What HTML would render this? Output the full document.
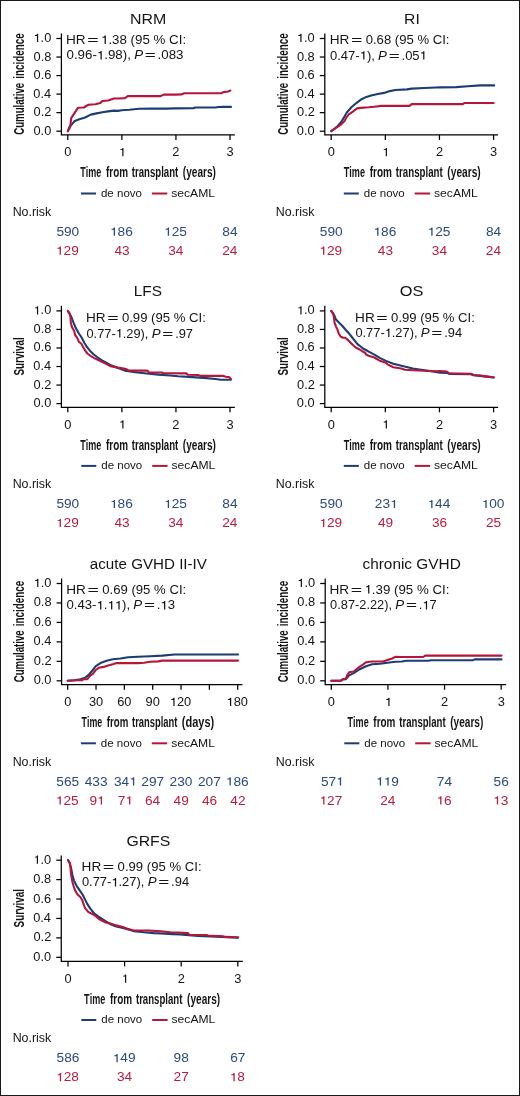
<!DOCTYPE html>
<html><head><meta charset="utf-8"><style>
html,body{margin:0;padding:0;background:#fff;}
svg{display:block;will-change:transform;font-family:"Liberation Sans",sans-serif;font-kerning:none;}
</style></head><body>
<svg width="520" height="1096" viewBox="0 0 520 1096">
<rect x="0" y="0" width="520" height="1096" fill="#fff"/>
<path d="M61.40 33.40V134.90H234.80" fill="none" stroke="#000" stroke-width="1.25"/>
<path d="M56.40 131.20H61.40" stroke="#000" stroke-width="1.25"/>
<text transform="translate(33.45,134.70) scale(1.0700,1)" font-size="12.0" fill="#141414">0.0</text>
<path d="M56.40 112.66H61.40" stroke="#000" stroke-width="1.25"/>
<text transform="translate(33.60,116.16) scale(1.0700,1)" font-size="12.0" fill="#141414">0.2</text>
<path d="M56.40 94.12H61.40" stroke="#000" stroke-width="1.25"/>
<text transform="translate(33.33,97.62) scale(1.0700,1)" font-size="12.0" fill="#141414">0.4</text>
<path d="M56.40 75.58H61.40" stroke="#000" stroke-width="1.25"/>
<text transform="translate(33.51,79.08) scale(1.0700,1)" font-size="12.0" fill="#141414">0.6</text>
<path d="M56.40 57.04H61.40" stroke="#000" stroke-width="1.25"/>
<text transform="translate(33.51,60.54) scale(1.0700,1)" font-size="12.0" fill="#141414">0.8</text>
<path d="M56.40 38.50H61.40" stroke="#000" stroke-width="1.25"/>
<g transform="translate(33.45,42.00) scale(1.0700,1)" fill="#141414"><text font-size="12.0"> .0</text><path transform="translate(0.000,0) scale(0.00586,-0.00586)" d="M752 0V1409H600C550 1250 460 1200 235 1185V1040H558V0Z"/></g>
<path d="M67.80 134.90V139.90" stroke="#000" stroke-width="1.25"/>
<text transform="translate(64.23,156.20) scale(1.0700,1)" font-size="12.0" fill="#141414">0</text>
<path d="M121.87 134.90V139.90" stroke="#000" stroke-width="1.25"/>
<g transform="translate(118.78,156.20) scale(1.0700,1)" fill="#141414"><text font-size="12.0"> </text><path transform="translate(0.000,0) scale(0.00586,-0.00586)" d="M752 0V1409H600C550 1250 460 1200 235 1185V1040H558V0Z"/></g>
<path d="M175.94 134.90V139.90" stroke="#000" stroke-width="1.25"/>
<text transform="translate(172.37,156.20) scale(1.0700,1)" font-size="12.0" fill="#141414">2</text>
<path d="M230.01 134.90V139.90" stroke="#000" stroke-width="1.25"/>
<text transform="translate(226.48,156.20) scale(1.0700,1)" font-size="12.0" fill="#141414">3</text>
<text transform="translate(130.09,23.75) scale(1.0775,1)" font-size="14.8" fill="#141414">NRM</text>
<text transform="translate(24.30,134.80) rotate(-90) scale(0.6309,1)" font-size="15.3" font-weight="bold" fill="#141414">Cumulative</text>
<text transform="translate(24.30,78.69) rotate(-90) scale(0.6422,1)" font-size="15.3" font-weight="bold" fill="#141414">incidence</text>
<text transform="translate(80.20,177.40) scale(0.5903,1)" font-size="15.3" font-weight="bold" fill="#141414">Time</text>
<text transform="translate(105.97,177.40) scale(0.6486,1)" font-size="15.3" font-weight="bold" fill="#141414">from</text>
<text transform="translate(131.86,177.40) scale(0.6273,1)" font-size="15.3" font-weight="bold" fill="#141414">transplant</text>
<text transform="translate(182.85,177.40) scale(0.6587,1)" font-size="15.3" font-weight="bold" fill="#141414">(years)</text>
<text transform="translate(65.98,43.90) scale(1.1150,1)" font-size="12.2" fill="#141414">HR</text>
<text transform="translate(87.25,43.90) scale(1.6028,1)" font-size="12.2" fill="#141414">=</text>
<g transform="translate(100.97,43.90) scale(1.0932,1)" fill="#141414"><text font-size="12.2"> .38 (95 % CI:</text><path transform="translate(0.000,0) scale(0.00596,-0.00596)" d="M752 0V1409H600C550 1250 460 1200 235 1185V1040H558V0Z"/></g>
<g transform="translate(66.48,59.40) scale(1.0927,1)" fill="#141414"><text font-size="12.2">0.96- .98),</text><path transform="translate(27.807,0) scale(0.00596,-0.00596)" d="M752 0V1409H600C550 1250 460 1200 235 1185V1040H558V0Z"/></g>
<text transform="translate(134.15,59.40) scale(1.0931,1)" font-size="12.2" fill="#141414"><tspan font-style="italic">P</tspan></text>
<text transform="translate(144.73,59.40) scale(1.5522,1)" font-size="12.2" fill="#141414">=</text>
<text transform="translate(157.54,59.40) scale(1.0927,1)" font-size="12.2" fill="#141414">.083</text>
<path d="M81.00 193.50h15" stroke="#1b3d74" stroke-width="2"/>
<text transform="translate(100.91,196.80) scale(1.0900,1)" font-size="10.6" fill="#141414">de novo</text>
<path d="M151.90 193.50h15.4" stroke="#b5163b" stroke-width="2"/>
<text transform="translate(171.26,196.80) scale(1.1450,1)" font-size="10.6" fill="#141414">secAML</text>
<text transform="translate(12.63,215.90) scale(1.0450,1)" font-size="11.9" fill="#141414">No.risk</text>
<text transform="translate(56.38,235.70) scale(1.1500,1)" font-size="11.9" fill="#2a4a7e">590</text>
<g transform="translate(55.92,254.70) scale(1.1500,1)" fill="#ba1c3f"><text font-size="11.9"> 29</text><path transform="translate(0.000,0) scale(0.00581,-0.00581)" d="M752 0V1409H600C550 1250 460 1200 235 1185V1040H558V0Z"/></g>
<g transform="translate(109.97,235.70) scale(1.1500,1)" fill="#2a4a7e"><text font-size="11.9"> 86</text><path transform="translate(0.000,0) scale(0.00581,-0.00581)" d="M752 0V1409H600C550 1250 460 1200 235 1185V1040H558V0Z"/></g>
<text transform="translate(114.40,254.70) scale(1.1500,1)" font-size="11.9" fill="#ba1c3f">43</text>
<g transform="translate(164.03,235.70) scale(1.1500,1)" fill="#2a4a7e"><text font-size="11.9"> 25</text><path transform="translate(0.000,0) scale(0.00581,-0.00581)" d="M752 0V1409H600C550 1250 460 1200 235 1185V1040H558V0Z"/></g>
<text transform="translate(168.27,254.70) scale(1.1500,1)" font-size="11.9" fill="#ba1c3f">34</text>
<text transform="translate(222.30,235.70) scale(1.1500,1)" font-size="11.9" fill="#2a4a7e">84</text>
<text transform="translate(222.26,254.70) scale(1.1500,1)" font-size="11.9" fill="#ba1c3f">24</text>
<path d="M67.80 131.20 L69.50 127.00 L71.80 124.40 L74.70 121.00 L79.30 119.20 L85.10 117.50 L90.80 114.60 L96.60 113.40 L102.40 112.30 L108.10 111.40 L113.90 110.60 L118.00 110.90 L121.50 110.20 L129.50 109.80 L138.80 108.80 L152.60 108.60 L166.40 108.60 L175.00 108.40 L193.50 108.30 L195.20 107.50 L215.40 107.50 L218.80 107.00 L223.40 106.80 L231.00 106.90" fill="none" stroke="#1b3d74" stroke-width="2.1" stroke-linejoin="round" stroke-linecap="round"/>
<path d="M67.80 131.20 L70.10 127.30 L71.20 118.10 L73.50 114.60 L75.80 111.10 L78.10 107.70 L83.90 107.50 L86.20 106.00 L88.50 104.80 L95.40 104.20 L100.10 103.10 L102.40 101.00 L108.10 100.50 L113.90 98.50 L118.00 98.50 L124.90 98.10 L127.80 96.10 L160.70 96.10 L163.60 94.60 L175.00 94.60 L181.90 94.40 L184.20 93.30 L221.10 93.30 L223.40 92.10 L228.00 91.50 L230.40 90.60" fill="none" stroke="#b5163b" stroke-width="2.1" stroke-linejoin="round" stroke-linecap="round"/>
<path d="M324.80 33.40V134.90H498.10" fill="none" stroke="#000" stroke-width="1.25"/>
<path d="M319.80 131.20H324.80" stroke="#000" stroke-width="1.25"/>
<text transform="translate(296.85,134.70) scale(1.0700,1)" font-size="12.0" fill="#141414">0.0</text>
<path d="M319.80 112.66H324.80" stroke="#000" stroke-width="1.25"/>
<text transform="translate(297.00,116.16) scale(1.0700,1)" font-size="12.0" fill="#141414">0.2</text>
<path d="M319.80 94.12H324.80" stroke="#000" stroke-width="1.25"/>
<text transform="translate(296.73,97.62) scale(1.0700,1)" font-size="12.0" fill="#141414">0.4</text>
<path d="M319.80 75.58H324.80" stroke="#000" stroke-width="1.25"/>
<text transform="translate(296.91,79.08) scale(1.0700,1)" font-size="12.0" fill="#141414">0.6</text>
<path d="M319.80 57.04H324.80" stroke="#000" stroke-width="1.25"/>
<text transform="translate(296.91,60.54) scale(1.0700,1)" font-size="12.0" fill="#141414">0.8</text>
<path d="M319.80 38.50H324.80" stroke="#000" stroke-width="1.25"/>
<g transform="translate(296.85,42.00) scale(1.0700,1)" fill="#141414"><text font-size="12.0"> .0</text><path transform="translate(0.000,0) scale(0.00586,-0.00586)" d="M752 0V1409H600C550 1250 460 1200 235 1185V1040H558V0Z"/></g>
<path d="M331.20 134.90V139.90" stroke="#000" stroke-width="1.25"/>
<text transform="translate(327.63,156.20) scale(1.0700,1)" font-size="12.0" fill="#141414">0</text>
<path d="M385.33 134.90V139.90" stroke="#000" stroke-width="1.25"/>
<g transform="translate(382.24,156.20) scale(1.0700,1)" fill="#141414"><text font-size="12.0"> </text><path transform="translate(0.000,0) scale(0.00586,-0.00586)" d="M752 0V1409H600C550 1250 460 1200 235 1185V1040H558V0Z"/></g>
<path d="M439.46 134.90V139.90" stroke="#000" stroke-width="1.25"/>
<text transform="translate(435.89,156.20) scale(1.0700,1)" font-size="12.0" fill="#141414">2</text>
<path d="M493.59 134.90V139.90" stroke="#000" stroke-width="1.25"/>
<text transform="translate(490.06,156.20) scale(1.0700,1)" font-size="12.0" fill="#141414">3</text>
<text transform="translate(404.11,23.75) scale(1.0638,1)" font-size="14.8" fill="#141414">RI</text>
<text transform="translate(287.60,134.80) rotate(-90) scale(0.6309,1)" font-size="15.3" font-weight="bold" fill="#141414">Cumulative</text>
<text transform="translate(287.60,78.69) rotate(-90) scale(0.6422,1)" font-size="15.3" font-weight="bold" fill="#141414">incidence</text>
<text transform="translate(343.70,177.40) scale(0.5960,1)" font-size="15.3" font-weight="bold" fill="#141414">Time</text>
<text transform="translate(369.71,177.40) scale(0.6548,1)" font-size="15.3" font-weight="bold" fill="#141414">from</text>
<text transform="translate(395.85,177.40) scale(0.6333,1)" font-size="15.3" font-weight="bold" fill="#141414">transplant</text>
<text transform="translate(447.34,177.40) scale(0.6650,1)" font-size="15.3" font-weight="bold" fill="#141414">(years)</text>
<text transform="translate(329.68,43.90) scale(1.1150,1)" font-size="12.2" fill="#141414">HR</text>
<text transform="translate(350.95,43.90) scale(1.6028,1)" font-size="12.2" fill="#141414">=</text>
<text transform="translate(365.69,43.90) scale(1.0747,1)" font-size="12.2" fill="#141414">0.68 (95 % CI:</text>
<g transform="translate(329.99,59.60) scale(1.0675,1)" fill="#141414"><text font-size="12.2">0.47- ),</text><path transform="translate(27.807,0) scale(0.00596,-0.00596)" d="M752 0V1409H600C550 1250 460 1200 235 1185V1040H558V0Z"/></g>
<text transform="translate(378.09,59.60) scale(1.0931,1)" font-size="12.2" fill="#141414"><tspan font-style="italic">P</tspan></text>
<text transform="translate(388.68,59.60) scale(1.5522,1)" font-size="12.2" fill="#141414">=</text>
<g transform="translate(401.51,59.60) scale(1.0675,1)" fill="#141414"><text font-size="12.2">.05 </text><path transform="translate(16.960,0) scale(0.00596,-0.00596)" d="M752 0V1409H600C550 1250 460 1200 235 1185V1040H558V0Z"/></g>
<path d="M343.80 193.50h15" stroke="#1b3d74" stroke-width="2"/>
<text transform="translate(363.71,196.80) scale(1.0900,1)" font-size="10.6" fill="#141414">de novo</text>
<path d="M414.70 193.50h15.4" stroke="#b5163b" stroke-width="2"/>
<text transform="translate(434.06,196.80) scale(1.1450,1)" font-size="10.6" fill="#141414">secAML</text>
<text transform="translate(275.73,215.90) scale(1.0450,1)" font-size="11.9" fill="#141414">No.risk</text>
<text transform="translate(319.78,235.70) scale(1.1500,1)" font-size="11.9" fill="#2a4a7e">590</text>
<g transform="translate(319.32,254.70) scale(1.1500,1)" fill="#ba1c3f"><text font-size="11.9"> 29</text><path transform="translate(0.000,0) scale(0.00581,-0.00581)" d="M752 0V1409H600C550 1250 460 1200 235 1185V1040H558V0Z"/></g>
<g transform="translate(373.43,235.70) scale(1.1500,1)" fill="#2a4a7e"><text font-size="11.9"> 86</text><path transform="translate(0.000,0) scale(0.00581,-0.00581)" d="M752 0V1409H600C550 1250 460 1200 235 1185V1040H558V0Z"/></g>
<text transform="translate(377.86,254.70) scale(1.1500,1)" font-size="11.9" fill="#ba1c3f">43</text>
<g transform="translate(427.55,235.70) scale(1.1500,1)" fill="#2a4a7e"><text font-size="11.9"> 25</text><path transform="translate(0.000,0) scale(0.00581,-0.00581)" d="M752 0V1409H600C550 1250 460 1200 235 1185V1040H558V0Z"/></g>
<text transform="translate(431.79,254.70) scale(1.1500,1)" font-size="11.9" fill="#ba1c3f">34</text>
<text transform="translate(485.88,235.70) scale(1.1500,1)" font-size="11.9" fill="#2a4a7e">84</text>
<text transform="translate(485.84,254.70) scale(1.1500,1)" font-size="11.9" fill="#ba1c3f">24</text>
<path d="M331.20 131.20 L334.10 129.00 L337.50 126.30 L341.00 122.30 L344.50 116.50 L346.80 112.50 L351.40 107.30 L356.00 103.30 L360.60 99.80 L366.40 96.90 L372.10 95.20 L377.90 94.00 L384.00 92.90 L389.80 91.10 L395.50 90.00 L407.10 89.40 L411.70 88.60 L424.40 88.00 L435.90 87.50 L440.00 87.40 L456.10 87.10 L467.70 86.20 L480.40 85.40 L494.20 85.40" fill="none" stroke="#1b3d74" stroke-width="2.1" stroke-linejoin="round" stroke-linecap="round"/>
<path d="M331.20 131.20 L334.10 129.20 L337.50 126.90 L341.00 124.60 L344.50 121.10 L346.20 117.70 L349.10 114.20 L352.50 111.90 L357.10 108.40 L360.60 107.90 L368.70 107.30 L374.40 106.70 L381.40 105.90 L409.40 105.90 L411.70 104.10 L463.10 104.10 L464.20 103.00 L493.60 103.00" fill="none" stroke="#b5163b" stroke-width="2.1" stroke-linejoin="round" stroke-linecap="round"/>
<path d="M61.40 305.80V407.30H234.80" fill="none" stroke="#000" stroke-width="1.25"/>
<path d="M56.40 403.60H61.40" stroke="#000" stroke-width="1.25"/>
<text transform="translate(33.45,407.10) scale(1.0700,1)" font-size="12.0" fill="#141414">0.0</text>
<path d="M56.40 385.06H61.40" stroke="#000" stroke-width="1.25"/>
<text transform="translate(33.60,388.56) scale(1.0700,1)" font-size="12.0" fill="#141414">0.2</text>
<path d="M56.40 366.52H61.40" stroke="#000" stroke-width="1.25"/>
<text transform="translate(33.33,370.02) scale(1.0700,1)" font-size="12.0" fill="#141414">0.4</text>
<path d="M56.40 347.98H61.40" stroke="#000" stroke-width="1.25"/>
<text transform="translate(33.51,351.48) scale(1.0700,1)" font-size="12.0" fill="#141414">0.6</text>
<path d="M56.40 329.44H61.40" stroke="#000" stroke-width="1.25"/>
<text transform="translate(33.51,332.94) scale(1.0700,1)" font-size="12.0" fill="#141414">0.8</text>
<path d="M56.40 310.90H61.40" stroke="#000" stroke-width="1.25"/>
<g transform="translate(33.45,314.40) scale(1.0700,1)" fill="#141414"><text font-size="12.0"> .0</text><path transform="translate(0.000,0) scale(0.00586,-0.00586)" d="M752 0V1409H600C550 1250 460 1200 235 1185V1040H558V0Z"/></g>
<path d="M67.80 407.30V412.30" stroke="#000" stroke-width="1.25"/>
<text transform="translate(64.23,428.60) scale(1.0700,1)" font-size="12.0" fill="#141414">0</text>
<path d="M121.87 407.30V412.30" stroke="#000" stroke-width="1.25"/>
<g transform="translate(118.78,428.60) scale(1.0700,1)" fill="#141414"><text font-size="12.0"> </text><path transform="translate(0.000,0) scale(0.00586,-0.00586)" d="M752 0V1409H600C550 1250 460 1200 235 1185V1040H558V0Z"/></g>
<path d="M175.94 407.30V412.30" stroke="#000" stroke-width="1.25"/>
<text transform="translate(172.37,428.60) scale(1.0700,1)" font-size="12.0" fill="#141414">2</text>
<path d="M230.01 407.30V412.30" stroke="#000" stroke-width="1.25"/>
<text transform="translate(226.48,428.60) scale(1.0700,1)" font-size="12.0" fill="#141414">3</text>
<text transform="translate(133.74,296.15) scale(1.0416,1)" font-size="14.8" fill="#141414">LFS</text>
<text transform="translate(24.30,375.54) rotate(-90) scale(0.6449,1)" font-size="15.3" font-weight="bold" fill="#141414">Survival</text>
<text transform="translate(80.20,449.80) scale(0.5903,1)" font-size="15.3" font-weight="bold" fill="#141414">Time</text>
<text transform="translate(105.97,449.80) scale(0.6486,1)" font-size="15.3" font-weight="bold" fill="#141414">from</text>
<text transform="translate(131.86,449.80) scale(0.6273,1)" font-size="15.3" font-weight="bold" fill="#141414">transplant</text>
<text transform="translate(182.85,449.80) scale(0.6587,1)" font-size="15.3" font-weight="bold" fill="#141414">(years)</text>
<text transform="translate(85.88,321.70) scale(1.1150,1)" font-size="12.2" fill="#141414">HR</text>
<text transform="translate(107.15,321.70) scale(1.6028,1)" font-size="12.2" fill="#141414">=</text>
<text transform="translate(121.89,321.70) scale(1.0786,1)" font-size="12.2" fill="#141414">0.99 (95 % CI:</text>
<g transform="translate(86.50,337.50) scale(1.0500,1)" fill="#141414"><text font-size="12.2">0.77- .29),</text><path transform="translate(27.807,0) scale(0.00596,-0.00596)" d="M752 0V1409H600C550 1250 460 1200 235 1185V1040H558V0Z"/></g>
<text transform="translate(151.70,337.50) scale(1.0931,1)" font-size="12.2" fill="#141414"><tspan font-style="italic">P</tspan></text>
<text transform="translate(162.28,337.50) scale(1.5522,1)" font-size="12.2" fill="#141414">=</text>
<text transform="translate(175.14,337.50) scale(1.0500,1)" font-size="12.2" fill="#141414">.97</text>
<path d="M81.30 465.90h15" stroke="#1b3d74" stroke-width="2"/>
<text transform="translate(101.21,469.20) scale(1.0900,1)" font-size="10.6" fill="#141414">de novo</text>
<path d="M152.20 465.90h15.4" stroke="#b5163b" stroke-width="2"/>
<text transform="translate(171.56,469.20) scale(1.1450,1)" font-size="10.6" fill="#141414">secAML</text>
<text transform="translate(12.63,488.30) scale(1.0450,1)" font-size="11.9" fill="#141414">No.risk</text>
<text transform="translate(56.38,508.10) scale(1.1500,1)" font-size="11.9" fill="#2a4a7e">590</text>
<g transform="translate(55.92,527.10) scale(1.1500,1)" fill="#ba1c3f"><text font-size="11.9"> 29</text><path transform="translate(0.000,0) scale(0.00581,-0.00581)" d="M752 0V1409H600C550 1250 460 1200 235 1185V1040H558V0Z"/></g>
<g transform="translate(109.97,508.10) scale(1.1500,1)" fill="#2a4a7e"><text font-size="11.9"> 86</text><path transform="translate(0.000,0) scale(0.00581,-0.00581)" d="M752 0V1409H600C550 1250 460 1200 235 1185V1040H558V0Z"/></g>
<text transform="translate(114.40,527.10) scale(1.1500,1)" font-size="11.9" fill="#ba1c3f">43</text>
<g transform="translate(164.03,508.10) scale(1.1500,1)" fill="#2a4a7e"><text font-size="11.9"> 25</text><path transform="translate(0.000,0) scale(0.00581,-0.00581)" d="M752 0V1409H600C550 1250 460 1200 235 1185V1040H558V0Z"/></g>
<text transform="translate(168.27,527.10) scale(1.1500,1)" font-size="11.9" fill="#ba1c3f">34</text>
<text transform="translate(222.30,508.10) scale(1.1500,1)" font-size="11.9" fill="#2a4a7e">84</text>
<text transform="translate(222.26,527.10) scale(1.1500,1)" font-size="11.9" fill="#ba1c3f">24</text>
<path d="M67.80 310.90 L71.20 316.50 L73.50 322.70 L75.80 328.10 L78.90 333.50 L82.00 338.10 L84.30 342.70 L86.60 346.50 L89.70 350.40 L93.50 354.20 L97.40 357.30 L102.00 360.40 L110.40 365.00 L118.00 367.90 L124.90 370.60 L135.30 372.30 L146.80 373.50 L158.40 374.60 L169.90 375.50 L178.00 376.30 L192.30 377.10 L203.80 377.90 L215.40 379.00 L221.10 379.80 L230.90 379.80" fill="none" stroke="#1b3d74" stroke-width="2.1" stroke-linejoin="round" stroke-linecap="round"/>
<path d="M67.80 310.90 L69.70 313.50 L70.50 317.30 L70.80 322.70 L72.00 327.30 L74.30 331.20 L75.10 335.00 L77.40 338.10 L78.90 341.90 L81.20 343.50 L82.80 346.50 L85.10 350.40 L87.40 353.50 L90.50 355.80 L94.30 358.10 L98.20 360.00 L102.00 361.90 L110.40 366.10 L118.00 367.60 L123.80 368.60 L127.20 369.40 L128.40 370.60 L147.40 370.60 L149.10 372.50 L161.80 372.50 L163.60 373.20 L186.50 373.40 L187.70 374.80 L198.10 375.00 L200.40 375.90 L223.40 375.90 L225.80 376.70 L229.20 377.10 L230.90 379.00" fill="none" stroke="#b5163b" stroke-width="2.1" stroke-linejoin="round" stroke-linecap="round"/>
<path d="M324.80 305.80V407.30H498.10" fill="none" stroke="#000" stroke-width="1.25"/>
<path d="M319.80 403.60H324.80" stroke="#000" stroke-width="1.25"/>
<text transform="translate(296.85,407.10) scale(1.0700,1)" font-size="12.0" fill="#141414">0.0</text>
<path d="M319.80 385.06H324.80" stroke="#000" stroke-width="1.25"/>
<text transform="translate(297.00,388.56) scale(1.0700,1)" font-size="12.0" fill="#141414">0.2</text>
<path d="M319.80 366.52H324.80" stroke="#000" stroke-width="1.25"/>
<text transform="translate(296.73,370.02) scale(1.0700,1)" font-size="12.0" fill="#141414">0.4</text>
<path d="M319.80 347.98H324.80" stroke="#000" stroke-width="1.25"/>
<text transform="translate(296.91,351.48) scale(1.0700,1)" font-size="12.0" fill="#141414">0.6</text>
<path d="M319.80 329.44H324.80" stroke="#000" stroke-width="1.25"/>
<text transform="translate(296.91,332.94) scale(1.0700,1)" font-size="12.0" fill="#141414">0.8</text>
<path d="M319.80 310.90H324.80" stroke="#000" stroke-width="1.25"/>
<g transform="translate(296.85,314.40) scale(1.0700,1)" fill="#141414"><text font-size="12.0"> .0</text><path transform="translate(0.000,0) scale(0.00586,-0.00586)" d="M752 0V1409H600C550 1250 460 1200 235 1185V1040H558V0Z"/></g>
<path d="M331.20 407.30V412.30" stroke="#000" stroke-width="1.25"/>
<text transform="translate(327.63,428.60) scale(1.0700,1)" font-size="12.0" fill="#141414">0</text>
<path d="M385.33 407.30V412.30" stroke="#000" stroke-width="1.25"/>
<g transform="translate(382.24,428.60) scale(1.0700,1)" fill="#141414"><text font-size="12.0"> </text><path transform="translate(0.000,0) scale(0.00586,-0.00586)" d="M752 0V1409H600C550 1250 460 1200 235 1185V1040H558V0Z"/></g>
<path d="M439.46 407.30V412.30" stroke="#000" stroke-width="1.25"/>
<text transform="translate(435.89,428.60) scale(1.0700,1)" font-size="12.0" fill="#141414">2</text>
<path d="M493.59 407.30V412.30" stroke="#000" stroke-width="1.25"/>
<text transform="translate(490.06,428.60) scale(1.0700,1)" font-size="12.0" fill="#141414">3</text>
<text transform="translate(399.83,296.15) scale(1.1048,1)" font-size="14.8" fill="#141414">OS</text>
<text transform="translate(287.60,375.54) rotate(-90) scale(0.6449,1)" font-size="15.3" font-weight="bold" fill="#141414">Survival</text>
<text transform="translate(343.70,449.80) scale(0.5960,1)" font-size="15.3" font-weight="bold" fill="#141414">Time</text>
<text transform="translate(369.71,449.80) scale(0.6548,1)" font-size="15.3" font-weight="bold" fill="#141414">from</text>
<text transform="translate(395.85,449.80) scale(0.6333,1)" font-size="15.3" font-weight="bold" fill="#141414">transplant</text>
<text transform="translate(447.34,449.80) scale(0.6650,1)" font-size="15.3" font-weight="bold" fill="#141414">(years)</text>
<text transform="translate(355.08,321.50) scale(1.1150,1)" font-size="12.2" fill="#141414">HR</text>
<text transform="translate(376.35,321.50) scale(1.6028,1)" font-size="12.2" fill="#141414">=</text>
<text transform="translate(391.09,321.50) scale(1.0754,1)" font-size="12.2" fill="#141414">0.99 (95 % CI:</text>
<g transform="translate(355.40,337.00) scale(1.0532,1)" fill="#141414"><text font-size="12.2">0.77- .27),</text><path transform="translate(27.807,0) scale(0.00596,-0.00596)" d="M752 0V1409H600C550 1250 460 1200 235 1185V1040H558V0Z"/></g>
<text transform="translate(420.78,337.00) scale(1.0931,1)" font-size="12.2" fill="#141414"><tspan font-style="italic">P</tspan></text>
<text transform="translate(431.36,337.00) scale(1.5522,1)" font-size="12.2" fill="#141414">=</text>
<text transform="translate(444.21,337.00) scale(1.0532,1)" font-size="12.2" fill="#141414">.94</text>
<path d="M343.80 465.90h15" stroke="#1b3d74" stroke-width="2"/>
<text transform="translate(363.71,469.20) scale(1.0900,1)" font-size="10.6" fill="#141414">de novo</text>
<path d="M414.70 465.90h15.4" stroke="#b5163b" stroke-width="2"/>
<text transform="translate(434.06,469.20) scale(1.1450,1)" font-size="10.6" fill="#141414">secAML</text>
<text transform="translate(275.73,488.30) scale(1.0450,1)" font-size="11.9" fill="#141414">No.risk</text>
<text transform="translate(319.78,508.10) scale(1.1500,1)" font-size="11.9" fill="#2a4a7e">590</text>
<g transform="translate(319.32,527.10) scale(1.1500,1)" fill="#ba1c3f"><text font-size="11.9"> 29</text><path transform="translate(0.000,0) scale(0.00581,-0.00581)" d="M752 0V1409H600C550 1250 460 1200 235 1185V1040H558V0Z"/></g>
<g transform="translate(374.86,508.10) scale(1.1500,1)" fill="#2a4a7e"><text font-size="11.9">23 </text><path transform="translate(13.236,0) scale(0.00581,-0.00581)" d="M752 0V1409H600C550 1250 460 1200 235 1185V1040H558V0Z"/></g>
<text transform="translate(377.89,527.10) scale(1.1500,1)" font-size="11.9" fill="#ba1c3f">49</text>
<g transform="translate(427.46,508.10) scale(1.1500,1)" fill="#2a4a7e"><text font-size="11.9"> 44</text><path transform="translate(0.000,0) scale(0.00581,-0.00581)" d="M752 0V1409H600C550 1250 460 1200 235 1185V1040H558V0Z"/></g>
<text transform="translate(431.89,527.10) scale(1.1500,1)" font-size="11.9" fill="#ba1c3f">36</text>
<g transform="translate(481.66,508.10) scale(1.1500,1)" fill="#2a4a7e"><text font-size="11.9"> 00</text><path transform="translate(0.000,0) scale(0.00581,-0.00581)" d="M752 0V1409H600C550 1250 460 1200 235 1185V1040H558V0Z"/></g>
<text transform="translate(485.92,527.10) scale(1.1500,1)" font-size="11.9" fill="#ba1c3f">25</text>
<path d="M331.20 310.90 L334.50 315.80 L336.00 319.60 L339.10 322.70 L342.20 325.80 L345.20 329.20 L348.30 332.70 L351.40 336.50 L354.50 340.40 L357.50 344.20 L359.80 345.80 L362.90 348.50 L366.00 350.00 L368.70 351.60 L374.40 354.60 L380.20 358.10 L386.00 360.90 L393.20 363.80 L402.50 366.10 L412.80 368.50 L424.40 370.20 L435.90 371.90 L440.00 372.60 L446.90 372.90 L449.20 373.90 L471.10 374.30 L473.40 375.30 L480.40 375.90 L486.10 376.60 L493.60 377.50" fill="none" stroke="#1b3d74" stroke-width="2.1" stroke-linejoin="round" stroke-linecap="round"/>
<path d="M331.20 310.90 L333.30 313.50 L334.10 318.80 L334.50 322.70 L336.00 326.50 L337.50 329.60 L338.70 333.50 L340.60 336.50 L342.90 337.70 L345.20 337.70 L347.50 339.60 L350.60 342.70 L353.70 345.80 L356.00 347.70 L359.10 349.20 L362.20 351.20 L365.20 352.70 L366.00 354.50 L368.70 355.70 L374.40 357.50 L379.10 360.40 L386.00 362.70 L387.50 364.40 L393.20 367.30 L401.30 368.50 L404.80 369.80 L412.80 370.20 L424.40 370.80 L435.90 371.30 L440.00 371.00 L446.90 371.50 L449.20 373.30 L471.10 373.80 L473.40 375.00 L480.40 375.60 L486.10 376.40 L493.60 377.30" fill="none" stroke="#b5163b" stroke-width="2.1" stroke-linejoin="round" stroke-linecap="round"/>
<path d="M61.60 578.40V684.70H242.40" fill="none" stroke="#000" stroke-width="1.25"/>
<path d="M56.60 680.80H61.60" stroke="#000" stroke-width="1.25"/>
<text transform="translate(33.65,684.30) scale(1.0700,1)" font-size="12.0" fill="#141414">0.0</text>
<path d="M56.60 661.34H61.60" stroke="#000" stroke-width="1.25"/>
<text transform="translate(33.80,664.84) scale(1.0700,1)" font-size="12.0" fill="#141414">0.2</text>
<path d="M56.60 641.88H61.60" stroke="#000" stroke-width="1.25"/>
<text transform="translate(33.53,645.38) scale(1.0700,1)" font-size="12.0" fill="#141414">0.4</text>
<path d="M56.60 622.42H61.60" stroke="#000" stroke-width="1.25"/>
<text transform="translate(33.71,625.92) scale(1.0700,1)" font-size="12.0" fill="#141414">0.6</text>
<path d="M56.60 602.96H61.60" stroke="#000" stroke-width="1.25"/>
<text transform="translate(33.71,606.46) scale(1.0700,1)" font-size="12.0" fill="#141414">0.8</text>
<path d="M56.60 583.50H61.60" stroke="#000" stroke-width="1.25"/>
<g transform="translate(33.65,587.00) scale(1.0700,1)" fill="#141414"><text font-size="12.0"> .0</text><path transform="translate(0.000,0) scale(0.00586,-0.00586)" d="M752 0V1409H600C550 1250 460 1200 235 1185V1040H558V0Z"/></g>
<path d="M67.70 684.70V689.70" stroke="#000" stroke-width="1.25"/>
<text transform="translate(64.13,706.00) scale(1.0700,1)" font-size="12.0" fill="#141414">0</text>
<path d="M96.03 684.70V689.70" stroke="#000" stroke-width="1.25"/>
<text transform="translate(88.90,706.00) scale(1.0700,1)" font-size="12.0" fill="#141414">30</text>
<path d="M124.37 684.70V689.70" stroke="#000" stroke-width="1.25"/>
<text transform="translate(117.15,706.00) scale(1.0700,1)" font-size="12.0" fill="#141414">60</text>
<path d="M152.70 684.70V689.70" stroke="#000" stroke-width="1.25"/>
<text transform="translate(145.51,706.00) scale(1.0700,1)" font-size="12.0" fill="#141414">90</text>
<path d="M181.03 684.70V689.70" stroke="#000" stroke-width="1.25"/>
<g transform="translate(169.84,706.00) scale(1.0700,1)" fill="#141414"><text font-size="12.0"> 20</text><path transform="translate(0.000,0) scale(0.00586,-0.00586)" d="M752 0V1409H600C550 1250 460 1200 235 1185V1040H558V0Z"/></g>
<path d="M209.37 684.70V689.70" stroke="#000" stroke-width="1.25"/>
<path d="M237.70 684.70V689.70" stroke="#000" stroke-width="1.25"/>
<g transform="translate(226.50,706.00) scale(1.0700,1)" fill="#141414"><text font-size="12.0"> 80</text><path transform="translate(0.000,0) scale(0.00586,-0.00586)" d="M752 0V1409H600C550 1250 460 1200 235 1185V1040H558V0Z"/></g>
<text transform="translate(89.86,569.30) scale(1.0253,1)" font-size="14.8" fill="#141414">acute GVHD II-IV</text>
<text transform="translate(24.30,682.30) rotate(-90) scale(0.6309,1)" font-size="15.3" font-weight="bold" fill="#141414">Cumulative</text>
<text transform="translate(24.30,626.19) rotate(-90) scale(0.6422,1)" font-size="15.3" font-weight="bold" fill="#141414">incidence</text>
<text transform="translate(81.60,727.20) scale(0.5768,1)" font-size="15.3" font-weight="bold" fill="#141414">Time</text>
<text transform="translate(106.78,727.20) scale(0.6337,1)" font-size="15.3" font-weight="bold" fill="#141414">from</text>
<text transform="translate(132.07,727.20) scale(0.6129,1)" font-size="15.3" font-weight="bold" fill="#141414">transplant</text>
<text transform="translate(181.84,727.20) scale(0.7192,1)" font-size="15.3" font-weight="bold" fill="#141414">(days)</text>
<text transform="translate(66.18,593.50) scale(1.1150,1)" font-size="12.2" fill="#141414">HR</text>
<text transform="translate(87.45,593.50) scale(1.6028,1)" font-size="12.2" fill="#141414">=</text>
<text transform="translate(102.19,593.50) scale(1.0786,1)" font-size="12.2" fill="#141414">0.69 (95 % CI:</text>
<g transform="translate(66.49,609.40) scale(1.0792,1)" fill="#141414"><text font-size="12.2">0.43- .  ),</text><path transform="translate(27.807,0) scale(0.00596,-0.00596)" d="M752 0V1409H600C550 1250 460 1200 235 1185V1040H558V0Z"/><path transform="translate(37.982,0) scale(0.00596,-0.00596)" d="M752 0V1409H600C550 1250 460 1200 235 1185V1040H558V0Z"/><path transform="translate(44.767,0) scale(0.00596,-0.00596)" d="M752 0V1409H600C550 1250 460 1200 235 1185V1040H558V0Z"/></g>
<text transform="translate(133.37,609.40) scale(1.0931,1)" font-size="12.2" fill="#141414"><tspan font-style="italic">P</tspan></text>
<text transform="translate(143.95,609.40) scale(1.5522,1)" font-size="12.2" fill="#141414">=</text>
<g transform="translate(156.78,609.40) scale(1.0792,1)" fill="#141414"><text font-size="12.2">. 3</text><path transform="translate(3.390,0) scale(0.00596,-0.00596)" d="M752 0V1409H600C550 1250 460 1200 235 1185V1040H558V0Z"/></g>
<path d="M80.90 743.30h15" stroke="#1b3d74" stroke-width="2"/>
<text transform="translate(100.81,746.60) scale(1.0900,1)" font-size="10.6" fill="#141414">de novo</text>
<path d="M151.80 743.30h15.4" stroke="#b5163b" stroke-width="2"/>
<text transform="translate(171.16,746.60) scale(1.1450,1)" font-size="10.6" fill="#141414">secAML</text>
<text transform="translate(12.63,765.70) scale(1.0450,1)" font-size="11.9" fill="#141414">No.risk</text>
<text transform="translate(56.30,785.50) scale(1.1500,1)" font-size="11.9" fill="#2a4a7e">565</text>
<g transform="translate(55.79,804.50) scale(1.1500,1)" fill="#ba1c3f"><text font-size="11.9"> 25</text><path transform="translate(0.000,0) scale(0.00581,-0.00581)" d="M752 0V1409H600C550 1250 460 1200 235 1185V1040H558V0Z"/></g>
<text transform="translate(84.76,785.50) scale(1.1500,1)" font-size="11.9" fill="#2a4a7e">433</text>
<g transform="translate(89.39,804.50) scale(1.1500,1)" fill="#ba1c3f"><text font-size="11.9">9 </text><path transform="translate(6.618,0) scale(0.00581,-0.00581)" d="M752 0V1409H600C550 1250 460 1200 235 1185V1040H558V0Z"/></g>
<g transform="translate(113.98,785.50) scale(1.1500,1)" fill="#2a4a7e"><text font-size="11.9">34 </text><path transform="translate(13.236,0) scale(0.00581,-0.00581)" d="M752 0V1409H600C550 1250 460 1200 235 1185V1040H558V0Z"/></g>
<g transform="translate(117.70,804.50) scale(1.1500,1)" fill="#ba1c3f"><text font-size="11.9">7 </text><path transform="translate(6.618,0) scale(0.00581,-0.00581)" d="M752 0V1409H600C550 1250 460 1200 235 1185V1040H558V0Z"/></g>
<text transform="translate(141.28,785.50) scale(1.1500,1)" font-size="11.9" fill="#2a4a7e">297</text>
<text transform="translate(144.94,804.50) scale(1.1500,1)" font-size="11.9" fill="#ba1c3f">64</text>
<text transform="translate(169.54,785.50) scale(1.1500,1)" font-size="11.9" fill="#2a4a7e">230</text>
<text transform="translate(173.59,804.50) scale(1.1500,1)" font-size="11.9" fill="#ba1c3f">49</text>
<text transform="translate(197.95,785.50) scale(1.1500,1)" font-size="11.9" fill="#2a4a7e">207</text>
<text transform="translate(201.90,804.50) scale(1.1500,1)" font-size="11.9" fill="#ba1c3f">46</text>
<g transform="translate(225.80,785.50) scale(1.1500,1)" fill="#2a4a7e"><text font-size="11.9"> 86</text><path transform="translate(0.000,0) scale(0.00581,-0.00581)" d="M752 0V1409H600C550 1250 460 1200 235 1185V1040H558V0Z"/></g>
<text transform="translate(230.28,804.50) scale(1.1500,1)" font-size="11.9" fill="#ba1c3f">42</text>
<path d="M67.70 680.80 L74.30 680.30 L80.50 679.20 L85.10 677.70 L88.90 674.60 L92.80 670.00 L95.80 666.20 L100.50 663.10 L106.60 660.80 L112.80 659.20 L120.50 658.50 L128.20 657.20 L138.00 656.80 L150.10 656.20 L162.20 655.60 L174.40 654.50 L238.00 654.50" fill="none" stroke="#1b3d74" stroke-width="2.1" stroke-linejoin="round" stroke-linecap="round"/>
<path d="M67.70 680.80 L77.40 680.30 L82.00 680.30 L83.50 679.20 L87.40 679.20 L89.70 676.20 L92.80 673.80 L95.80 670.00 L98.90 667.70 L103.50 666.90 L108.20 665.40 L112.80 664.30 L116.60 663.10 L138.00 663.10 L144.10 662.80 L150.10 661.80 L158.20 661.40 L162.20 660.60 L238.00 660.60" fill="none" stroke="#b5163b" stroke-width="2.1" stroke-linejoin="round" stroke-linecap="round"/>
<path d="M325.20 578.40V684.70H506.20" fill="none" stroke="#000" stroke-width="1.25"/>
<path d="M320.20 680.80H325.20" stroke="#000" stroke-width="1.25"/>
<text transform="translate(297.25,684.30) scale(1.0700,1)" font-size="12.0" fill="#141414">0.0</text>
<path d="M320.20 661.34H325.20" stroke="#000" stroke-width="1.25"/>
<text transform="translate(297.40,664.84) scale(1.0700,1)" font-size="12.0" fill="#141414">0.2</text>
<path d="M320.20 641.88H325.20" stroke="#000" stroke-width="1.25"/>
<text transform="translate(297.13,645.38) scale(1.0700,1)" font-size="12.0" fill="#141414">0.4</text>
<path d="M320.20 622.42H325.20" stroke="#000" stroke-width="1.25"/>
<text transform="translate(297.31,625.92) scale(1.0700,1)" font-size="12.0" fill="#141414">0.6</text>
<path d="M320.20 602.96H325.20" stroke="#000" stroke-width="1.25"/>
<text transform="translate(297.31,606.46) scale(1.0700,1)" font-size="12.0" fill="#141414">0.8</text>
<path d="M320.20 583.50H325.20" stroke="#000" stroke-width="1.25"/>
<g transform="translate(297.25,587.00) scale(1.0700,1)" fill="#141414"><text font-size="12.0"> .0</text><path transform="translate(0.000,0) scale(0.00586,-0.00586)" d="M752 0V1409H600C550 1250 460 1200 235 1185V1040H558V0Z"/></g>
<path d="M331.30 684.70V689.70" stroke="#000" stroke-width="1.25"/>
<text transform="translate(327.73,706.00) scale(1.0700,1)" font-size="12.0" fill="#141414">0</text>
<path d="M387.93 684.70V689.70" stroke="#000" stroke-width="1.25"/>
<g transform="translate(384.84,706.00) scale(1.0700,1)" fill="#141414"><text font-size="12.0"> </text><path transform="translate(0.000,0) scale(0.00586,-0.00586)" d="M752 0V1409H600C550 1250 460 1200 235 1185V1040H558V0Z"/></g>
<path d="M444.56 684.70V689.70" stroke="#000" stroke-width="1.25"/>
<text transform="translate(440.99,706.00) scale(1.0700,1)" font-size="12.0" fill="#141414">2</text>
<path d="M501.19 684.70V689.70" stroke="#000" stroke-width="1.25"/>
<text transform="translate(497.66,706.00) scale(1.0700,1)" font-size="12.0" fill="#141414">3</text>
<text transform="translate(362.45,569.30) scale(1.0403,1)" font-size="14.8" fill="#141414">chronic GVHD</text>
<text transform="translate(287.60,682.30) rotate(-90) scale(0.6309,1)" font-size="15.3" font-weight="bold" fill="#141414">Cumulative</text>
<text transform="translate(287.60,626.19) rotate(-90) scale(0.6422,1)" font-size="15.3" font-weight="bold" fill="#141414">incidence</text>
<text transform="translate(347.60,727.20) scale(0.5903,1)" font-size="15.3" font-weight="bold" fill="#141414">Time</text>
<text transform="translate(373.37,727.20) scale(0.6486,1)" font-size="15.3" font-weight="bold" fill="#141414">from</text>
<text transform="translate(399.26,727.20) scale(0.6273,1)" font-size="15.3" font-weight="bold" fill="#141414">transplant</text>
<text transform="translate(450.25,727.20) scale(0.6587,1)" font-size="15.3" font-weight="bold" fill="#141414">(years)</text>
<text transform="translate(329.48,593.50) scale(1.1150,1)" font-size="12.2" fill="#141414">HR</text>
<text transform="translate(350.75,593.50) scale(1.6028,1)" font-size="12.2" fill="#141414">=</text>
<g transform="translate(364.47,593.50) scale(1.0905,1)" fill="#141414"><text font-size="12.2"> .39 (95 % CI:</text><path transform="translate(0.000,0) scale(0.00596,-0.00596)" d="M752 0V1409H600C550 1250 460 1200 235 1185V1040H558V0Z"/></g>
<text transform="translate(330.10,609.40) scale(1.0514,1)" font-size="12.2" fill="#141414">0.87-2.22),</text>
<text transform="translate(395.37,609.40) scale(1.0931,1)" font-size="12.2" fill="#141414"><tspan font-style="italic">P</tspan></text>
<text transform="translate(405.96,609.40) scale(1.5522,1)" font-size="12.2" fill="#141414">=</text>
<g transform="translate(418.81,609.40) scale(1.0514,1)" fill="#141414"><text font-size="12.2">. 7</text><path transform="translate(3.390,0) scale(0.00596,-0.00596)" d="M752 0V1409H600C550 1250 460 1200 235 1185V1040H558V0Z"/></g>
<path d="M344.30 743.30h15" stroke="#1b3d74" stroke-width="2"/>
<text transform="translate(364.21,746.60) scale(1.0900,1)" font-size="10.6" fill="#141414">de novo</text>
<path d="M415.20 743.30h15.4" stroke="#b5163b" stroke-width="2"/>
<text transform="translate(434.56,746.60) scale(1.1450,1)" font-size="10.6" fill="#141414">secAML</text>
<text transform="translate(275.73,765.70) scale(1.0450,1)" font-size="11.9" fill="#141414">No.risk</text>
<g transform="translate(320.90,785.50) scale(1.1500,1)" fill="#2a4a7e"><text font-size="11.9">57 </text><path transform="translate(13.236,0) scale(0.00581,-0.00581)" d="M752 0V1409H600C550 1250 460 1200 235 1185V1040H558V0Z"/></g>
<g transform="translate(319.44,804.50) scale(1.1500,1)" fill="#ba1c3f"><text font-size="11.9"> 27</text><path transform="translate(0.000,0) scale(0.00581,-0.00581)" d="M752 0V1409H600C550 1250 460 1200 235 1185V1040H558V0Z"/></g>
<g transform="translate(376.05,785.50) scale(1.1500,1)" fill="#2a4a7e"><text font-size="11.9">  9</text><path transform="translate(0.000,0) scale(0.00581,-0.00581)" d="M752 0V1409H600C550 1250 460 1200 235 1185V1040H558V0Z"/><path transform="translate(6.618,0) scale(0.00581,-0.00581)" d="M752 0V1409H600C550 1250 460 1200 235 1185V1040H558V0Z"/></g>
<text transform="translate(380.18,804.50) scale(1.1500,1)" font-size="11.9" fill="#ba1c3f">24</text>
<text transform="translate(436.80,785.50) scale(1.1500,1)" font-size="11.9" fill="#2a4a7e">74</text>
<g transform="translate(436.46,804.50) scale(1.1500,1)" fill="#ba1c3f"><text font-size="11.9"> 6</text><path transform="translate(0.000,0) scale(0.00581,-0.00581)" d="M752 0V1409H600C550 1250 460 1200 235 1185V1040H558V0Z"/></g>
<text transform="translate(493.61,785.50) scale(1.1500,1)" font-size="11.9" fill="#2a4a7e">56</text>
<g transform="translate(493.09,804.50) scale(1.1500,1)" fill="#ba1c3f"><text font-size="11.9"> 3</text><path transform="translate(0.000,0) scale(0.00581,-0.00581)" d="M752 0V1409H600C550 1250 460 1200 235 1185V1040H558V0Z"/></g>
<path d="M331.30 680.80 L340.60 680.80 L342.90 679.40 L346.00 679.20 L349.10 675.40 L353.70 673.10 L359.80 669.20 L366.00 666.20 L372.20 664.30 L379.80 663.80 L387.50 662.80 L395.20 661.80 L402.00 661.50 L406.00 660.80 L428.30 660.80 L431.30 660.20 L472.70 660.20 L474.70 659.40 L501.50 659.40" fill="none" stroke="#1b3d74" stroke-width="2.1" stroke-linejoin="round" stroke-linecap="round"/>
<path d="M331.30 680.80 L340.60 680.80 L342.90 679.20 L346.00 678.50 L347.50 674.60 L349.10 672.30 L353.70 671.50 L358.30 667.70 L362.90 664.60 L366.00 662.30 L372.20 661.50 L382.90 661.50 L387.50 660.00 L392.20 658.50 L395.20 656.90 L402.00 657.00 L423.20 657.00 L425.20 655.60 L501.50 655.60" fill="none" stroke="#b5163b" stroke-width="2.1" stroke-linejoin="round" stroke-linecap="round"/>
<path d="M61.25 855.40V961.40H242.80" fill="none" stroke="#000" stroke-width="1.25"/>
<path d="M56.25 957.30H61.25" stroke="#000" stroke-width="1.25"/>
<text transform="translate(33.30,960.80) scale(1.0700,1)" font-size="12.0" fill="#141414">0.0</text>
<path d="M56.25 937.88H61.25" stroke="#000" stroke-width="1.25"/>
<text transform="translate(33.45,941.38) scale(1.0700,1)" font-size="12.0" fill="#141414">0.2</text>
<path d="M56.25 918.46H61.25" stroke="#000" stroke-width="1.25"/>
<text transform="translate(33.18,921.96) scale(1.0700,1)" font-size="12.0" fill="#141414">0.4</text>
<path d="M56.25 899.04H61.25" stroke="#000" stroke-width="1.25"/>
<text transform="translate(33.36,902.54) scale(1.0700,1)" font-size="12.0" fill="#141414">0.6</text>
<path d="M56.25 879.62H61.25" stroke="#000" stroke-width="1.25"/>
<text transform="translate(33.36,883.12) scale(1.0700,1)" font-size="12.0" fill="#141414">0.8</text>
<path d="M56.25 860.20H61.25" stroke="#000" stroke-width="1.25"/>
<g transform="translate(33.30,863.70) scale(1.0700,1)" fill="#141414"><text font-size="12.0"> .0</text><path transform="translate(0.000,0) scale(0.00586,-0.00586)" d="M752 0V1409H600C550 1250 460 1200 235 1185V1040H558V0Z"/></g>
<path d="M68.00 961.40V966.40" stroke="#000" stroke-width="1.25"/>
<text transform="translate(64.43,982.70) scale(1.0700,1)" font-size="12.0" fill="#141414">0</text>
<path d="M124.60 961.40V966.40" stroke="#000" stroke-width="1.25"/>
<g transform="translate(121.51,982.70) scale(1.0700,1)" fill="#141414"><text font-size="12.0"> </text><path transform="translate(0.000,0) scale(0.00586,-0.00586)" d="M752 0V1409H600C550 1250 460 1200 235 1185V1040H558V0Z"/></g>
<path d="M181.20 961.40V966.40" stroke="#000" stroke-width="1.25"/>
<text transform="translate(177.63,982.70) scale(1.0700,1)" font-size="12.0" fill="#141414">2</text>
<path d="M237.80 961.40V966.40" stroke="#000" stroke-width="1.25"/>
<text transform="translate(234.27,982.70) scale(1.0700,1)" font-size="12.0" fill="#141414">3</text>
<text transform="translate(126.40,846.10) scale(1.0683,1)" font-size="14.8" fill="#141414">GRFS</text>
<text transform="translate(24.30,927.39) rotate(-90) scale(0.6449,1)" font-size="15.3" font-weight="bold" fill="#141414">Survival</text>
<text transform="translate(84.10,1003.90) scale(0.5923,1)" font-size="15.3" font-weight="bold" fill="#141414">Time</text>
<text transform="translate(109.95,1003.90) scale(0.6507,1)" font-size="15.3" font-weight="bold" fill="#141414">from</text>
<text transform="translate(135.93,1003.90) scale(0.6294,1)" font-size="15.3" font-weight="bold" fill="#141414">transplant</text>
<text transform="translate(187.09,1003.90) scale(0.6609,1)" font-size="15.3" font-weight="bold" fill="#141414">(years)</text>
<text transform="translate(81.58,870.70) scale(1.1150,1)" font-size="12.2" fill="#141414">HR</text>
<text transform="translate(102.85,870.70) scale(1.6028,1)" font-size="12.2" fill="#141414">=</text>
<text transform="translate(117.59,870.70) scale(1.0773,1)" font-size="12.2" fill="#141414">0.99 (95 % CI:</text>
<g transform="translate(81.89,886.40) scale(1.0601,1)" fill="#141414"><text font-size="12.2">0.77- .27),</text><path transform="translate(27.807,0) scale(0.00596,-0.00596)" d="M752 0V1409H600C550 1250 460 1200 235 1185V1040H558V0Z"/></g>
<text transform="translate(147.67,886.40) scale(1.0931,1)" font-size="12.2" fill="#141414"><tspan font-style="italic">P</tspan></text>
<text transform="translate(158.26,886.40) scale(1.5522,1)" font-size="12.2" fill="#141414">=</text>
<text transform="translate(171.10,886.40) scale(1.0601,1)" font-size="12.2" fill="#141414">.94</text>
<path d="M81.30 1020.00h15" stroke="#1b3d74" stroke-width="2"/>
<text transform="translate(101.21,1023.30) scale(1.0900,1)" font-size="10.6" fill="#141414">de novo</text>
<path d="M152.20 1020.00h15.4" stroke="#b5163b" stroke-width="2"/>
<text transform="translate(171.56,1023.30) scale(1.1450,1)" font-size="10.6" fill="#141414">secAML</text>
<text transform="translate(12.63,1042.40) scale(1.0450,1)" font-size="11.9" fill="#141414">No.risk</text>
<text transform="translate(56.61,1062.20) scale(1.1500,1)" font-size="11.9" fill="#2a4a7e">586</text>
<g transform="translate(56.10,1081.20) scale(1.1500,1)" fill="#ba1c3f"><text font-size="11.9"> 28</text><path transform="translate(0.000,0) scale(0.00581,-0.00581)" d="M752 0V1409H600C550 1250 460 1200 235 1185V1040H558V0Z"/></g>
<g transform="translate(112.72,1062.20) scale(1.1500,1)" fill="#2a4a7e"><text font-size="11.9"> 49</text><path transform="translate(0.000,0) scale(0.00581,-0.00581)" d="M752 0V1409H600C550 1250 460 1200 235 1185V1040H558V0Z"/></g>
<text transform="translate(116.93,1081.20) scale(1.1500,1)" font-size="11.9" fill="#ba1c3f">34</text>
<text transform="translate(173.57,1062.20) scale(1.1500,1)" font-size="11.9" fill="#2a4a7e">98</text>
<text transform="translate(173.59,1081.20) scale(1.1500,1)" font-size="11.9" fill="#ba1c3f">27</text>
<text transform="translate(230.19,1062.20) scale(1.1500,1)" font-size="11.9" fill="#2a4a7e">67</text>
<g transform="translate(229.70,1081.20) scale(1.1500,1)" fill="#ba1c3f"><text font-size="11.9"> 8</text><path transform="translate(0.000,0) scale(0.00581,-0.00581)" d="M752 0V1409H600C550 1250 460 1200 235 1185V1040H558V0Z"/></g>
<path d="M68.00 860.20 L69.70 863.00 L71.20 868.80 L72.40 875.00 L73.90 880.40 L76.60 885.80 L79.70 890.40 L82.80 895.00 L85.10 899.60 L87.40 904.20 L90.50 908.80 L94.30 913.50 L97.80 916.10 L104.70 920.70 L110.40 924.20 L116.20 926.50 L122.00 927.70 L133.50 931.10 L144.20 932.30 L153.80 933.10 L160.90 933.50 L172.80 934.10 L180.00 934.40 L198.00 936.00 L221.80 936.90 L238.00 937.80" fill="none" stroke="#1b3d74" stroke-width="2.1" stroke-linejoin="round" stroke-linecap="round"/>
<path d="M68.00 860.20 L69.70 862.70 L70.50 867.30 L70.80 871.90 L71.60 877.30 L72.40 881.90 L73.50 885.80 L75.10 890.40 L77.40 894.20 L80.50 897.30 L82.40 900.40 L83.50 904.20 L85.10 908.10 L88.20 911.90 L91.20 913.50 L94.30 915.00 L98.90 919.00 L105.80 922.50 L110.40 923.60 L116.20 925.40 L118.00 925.70 L122.80 926.90 L127.50 928.70 L133.50 930.50 L149.00 930.50 L160.90 931.40 L170.40 932.30 L178.00 932.50 L188.00 933.10 L189.30 934.80 L206.80 935.00 L208.00 935.60 L223.00 936.30 L224.30 936.90 L238.00 937.30" fill="none" stroke="#b5163b" stroke-width="2.1" stroke-linejoin="round" stroke-linecap="round"/>
<rect x="0.5" y="0.5" width="519" height="1095" fill="none" stroke="#1a1a1a" stroke-width="1"/>
</svg>
</body></html>
